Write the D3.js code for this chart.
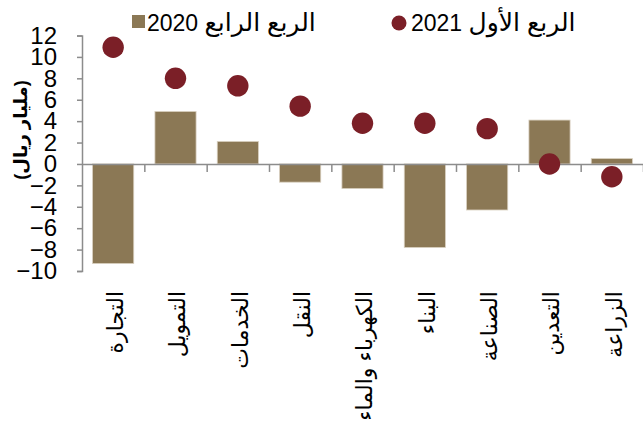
<!DOCTYPE html>
<html>
<head>
<meta charset="utf-8">
<script src="https://cdn.jsdelivr.net/npm/d3@7"></script>
<style>
  body { margin: 0; background: #fff; }
  svg { display: block; font-family: "Liberation Sans", Arial, "DejaVu Sans", sans-serif; }
</style>
</head>
<body>
<svg id="chart"></svg>
<script>
const width = 643;
const height = 427;

const categories = ['التجارة', 'التمويل', 'الخدمات', 'النقل', 'الكهرباء والماء', 'البناء', 'الصناعة', 'التعدين', 'الزراعة'];
const q4_2020 = [-9.3, 4.9, 2.1, -1.7, -2.3, -7.8, -4.3, 4.1, 0.5];
const q1_2021 = [10.9, 8.0, 7.3, 5.4, 3.8, 3.8, 3.3, 0.0, -1.2];
const yTicks = [-10, -8, -6, -4, -2, 0, 2, 4, 6, 8, 10, 12];
const seriesYears = ['2020', '2021'];
const seriesQuarters = ['الربع الرابع', 'الربع الأول'];
const yTitle = '(مليار ريال)';

const barColor = '#8b7855';
const dotColor = '#7b1f27';
const axisColor = '#8c8c8c';

const left = 82;
const right = 643;

const svg = d3.select('#chart')
    .attr('width', width)
    .attr('height', height);

const x = d3.scaleBand().domain(categories).range([left, right]).paddingInner(0.34).paddingOuter(0.17);
const xEdge = d3.scaleLinear().domain([0, categories.length]).range([left, right]);
const y = d3.scaleLinear().domain([-10, 12]).range([271, 35.5]);

// bars
svg.append('g').selectAll('rect').data(categories).enter().append('rect')
    .attr('x', d => x(d))
    .attr('width', x.bandwidth())
    .attr('y', (d, i) => y(Math.max(0, q4_2020[i])))
    .attr('height', (d, i) => Math.abs(y(q4_2020[i]) - y(0)))
    .attr('fill', barColor)
    .attr('stroke', '#d8cfbf')
    .attr('stroke-width', 0.8);

// y axis
const yAxis = svg.append('g')
    .attr('transform', `translate(${left},0)`)
    .call(d3.axisLeft(y).tickValues(yTicks).tickSize(5).tickPadding(20).tickFormat(d3.format('d')));
yAxis.select('.domain').attr('stroke', axisColor).attr('stroke-width', 1.5);
yAxis.selectAll('.tick line').attr('stroke', axisColor).attr('stroke-width', 1.5);
yAxis.selectAll('.tick text')
    .attr('fill', '#000')
    .style('font-size', '24px')
    .style('font-family', '"Liberation Sans", Arial, sans-serif');

// zero axis with category separators
const xAxis = svg.append('g')
    .attr('transform', `translate(0,${y(0)})`)
    .call(d3.axisBottom(xEdge).tickValues(d3.range(1, categories.length + 1)).tickSize(8).tickSizeOuter(0).tickFormat(''));
xAxis.select('.domain').attr('stroke', axisColor).attr('stroke-width', 1.5);
xAxis.selectAll('.tick line').attr('stroke', axisColor).attr('stroke-width', 1.5);

// dots
svg.append('g').selectAll('circle').data(categories).enter().append('circle')
    .attr('cx', d => x(d) + x.bandwidth() / 2)
    .attr('cy', (d, i) => y(q1_2021[i]))
    .attr('r', 10.7)
    .attr('fill', dotColor);

// category labels, rotated
svg.append('g').selectAll('text').data(categories).enter().append('text')
    .attr('transform', d => `translate(${x(d) + x.bandwidth() / 2 + 2},291) rotate(-90)`)
    .attr('text-anchor', 'end')
    .attr('dy', '0.35em')
    .style('font-size', '22px')
    .text(d => d);

// y title
svg.append('text')
    .attr('transform', 'translate(21,130) rotate(-90)')
    .attr('text-anchor', 'middle')
    .attr('dy', '0.35em')
    .style('font-size', '18px')
    .style('font-weight', 'bold')
    .text(yTitle);

// legend
const legend = svg.append('g');
legend.append('rect')
    .attr('x', 132).attr('y', 15).attr('width', 13).attr('height', 13)
    .attr('fill', barColor);
const lt1 = legend.append('text').attr('x', 147).attr('y', 31);
lt1.append('tspan').style('font-size', '23px').text(seriesYears[0] + ' ');
lt1.append('tspan').style('font-size', '25px').text(seriesQuarters[0]);

legend.append('circle')
    .attr('cx', 399).attr('cy', 23).attr('r', 7.5)
    .attr('fill', dotColor);
const lt2 = legend.append('text').attr('x', 411).attr('y', 31);
lt2.append('tspan').style('font-size', '23px').text(seriesYears[1] + ' ');
lt2.append('tspan').style('font-size', '25px').text(seriesQuarters[1]);
</script>
</body>
</html>
